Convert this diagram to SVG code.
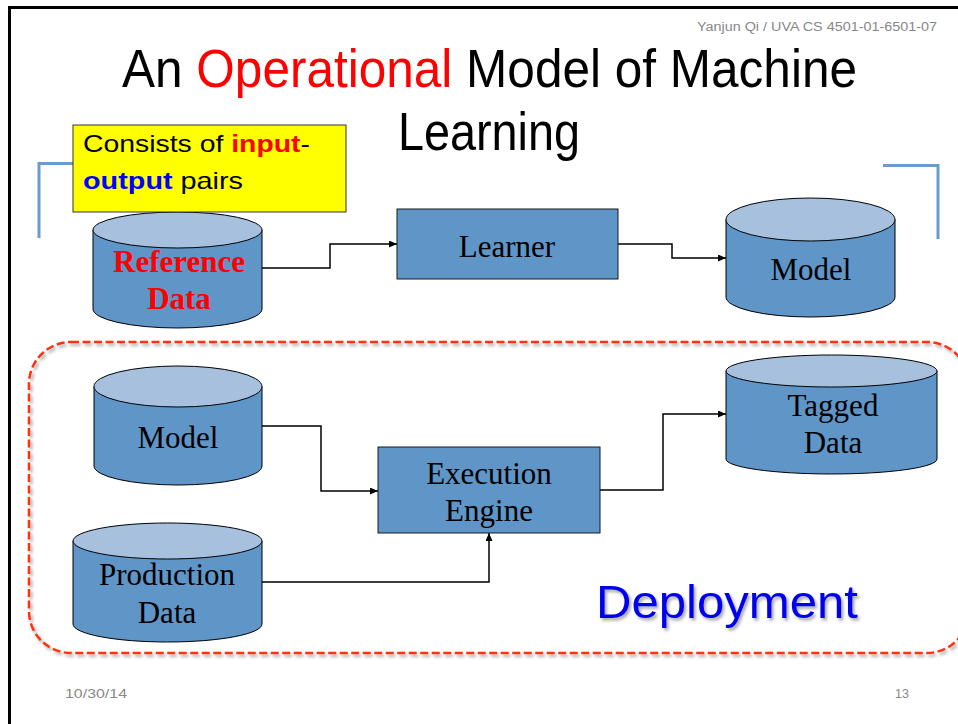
<svg xmlns="http://www.w3.org/2000/svg" width="958" height="724" viewBox="0 0 958 724">
<defs>
<style>
.body{fill:#5F95C7;stroke:#000;stroke-width:1}
.top{fill:#A6C0DE;stroke:#000;stroke-width:1}
.box{fill:#5F95C7;stroke:#1a1a1a;stroke-width:1}
.lbl{font-family:"Liberation Serif","Times New Roman",serif;font-size:31px;fill:#000;text-anchor:middle}
.conn{fill:none;stroke:#000;stroke-width:1.5}
.sans{font-family:"Liberation Sans",Arial,sans-serif}
.gray{fill:#888;font-size:12.5px}
.bracket{fill:none;stroke:#6A9BD0;stroke-width:3}
</style>
<marker id="arr" markerUnits="userSpaceOnUse" markerWidth="9" markerHeight="8" refX="8" refY="3.5" orient="auto">
<path d="M0,0 L8,3.5 L0,7 z" fill="#000"/>
</marker>
<filter id="sh" x="-5%" y="-5%" width="110%" height="115%">
<feDropShadow dx="2" dy="2.5" stdDeviation="1.5" flood-color="#000" flood-opacity="0.35"/>
</filter>
</defs>
<rect x="0" y="0" width="958" height="724" fill="#fff"/>
<path d="M9.5,724 V7.5 H958" fill="none" stroke="#000" stroke-width="3"/>

<text class="sans gray" x="937" y="31" text-anchor="end" textLength="240" lengthAdjust="spacingAndGlyphs">Yanjun Qi / UVA CS 4501-01-6501-07</text>

<g id="title">
<text class="sans" x="122" y="87" font-size="54" fill="#000" textLength="735" lengthAdjust="spacingAndGlyphs">An <tspan fill="#FF0000">Operational</tspan> Model of Machine</text>
<text class="sans" x="398" y="150" font-size="54" fill="#000" textLength="182" lengthAdjust="spacingAndGlyphs">Learning</text>
</g>

<g id="brackets">
<path class="bracket" d="M39,238 V163.5 H75"/>
<path class="bracket" d="M883,165.5 H938 V239"/>
</g>

<g id="connectors">
<path class="conn" d="M262,268 H330 V244 H397" marker-end="url(#arr)"/>
<path class="conn" d="M618,244 H672 V258 H726" marker-end="url(#arr)"/>
<path class="conn" d="M262,426 H321 V491 H378" marker-end="url(#arr)"/>
<path class="conn" d="M262,582 H489 V533" marker-end="url(#arr)"/>
<path class="conn" d="M600,490 H663 V414 H726" marker-end="url(#arr)"/>
</g>

<g id="reference-data">
<path class="body" d="M93,230 V309 A84.5,19 0 0 0 262,309 V230 Z"/>
<ellipse class="top" cx="177.5" cy="230" rx="84.5" ry="18"/>
<text class="lbl" x="179" y="272" font-weight="bold" style="fill:#FF0000">Reference</text>
<text class="lbl" x="179" y="309" font-weight="bold" style="fill:#FF0000">Data</text>
</g>

<g id="note">
<rect x="73" y="125" width="273" height="87" fill="#FFFF00" stroke="#333" stroke-width="1"/>
<text class="sans" x="83" y="152" font-size="24" fill="#000" textLength="227" lengthAdjust="spacingAndGlyphs">Consists of <tspan fill="#FF0000" font-weight="bold">input</tspan>-</text>
<text class="sans" x="83" y="189" font-size="24" fill="#000" textLength="160" lengthAdjust="spacingAndGlyphs"><tspan fill="#0000FF" font-weight="bold">output</tspan> pairs</text>
</g>

<g id="learner">
<rect class="box" x="397" y="209" width="221" height="70"/>
<text class="lbl" x="507" y="257">Learner</text>
</g>

<g id="model-top">
<path class="body" d="M726,219.5 V297 A84.5,20 0 0 0 895,297 V219.5 Z"/>
<ellipse class="top" cx="810.5" cy="219.5" rx="84.5" ry="21.5"/>
<text class="lbl" x="811" y="280">Model</text>
</g>

<g id="deployment">
<rect x="29" y="342" width="940" height="311" rx="42" ry="42" fill="none" stroke="#FF3311" stroke-width="2.5" stroke-dasharray="8 3.5" filter="url(#sh)"/>
<text class="sans" x="596" y="618" font-size="47" fill="#0000EE" textLength="262" lengthAdjust="spacingAndGlyphs" filter="url(#sh)">Deployment</text>
</g>

<g id="model-bottom">
<path class="body" d="M94,386.5 V466 A84,19 0 0 0 262,466 V386.5 Z"/>
<ellipse class="top" cx="178" cy="386.5" rx="84" ry="20.5"/>
<text class="lbl" x="178" y="448">Model</text>
</g>

<g id="production-data">
<path class="body" d="M73,541 V624 A94.5,18 0 0 0 262,624 V541 Z"/>
<ellipse class="top" cx="167.5" cy="541" rx="94.5" ry="18"/>
<text class="lbl" x="167" y="585">Production</text>
<text class="lbl" x="167" y="623">Data</text>
</g>

<g id="execution-engine">
<rect class="box" x="378" y="447" width="222" height="86"/>
<text class="lbl" x="489" y="484">Execution</text>
<text class="lbl" x="489" y="521">Engine</text>
</g>

<g id="tagged-data">
<path class="body" d="M726,371 V459 A105.5,15 0 0 0 937,459 V371 Z"/>
<ellipse class="top" cx="831.5" cy="371" rx="105.5" ry="16"/>
<text class="lbl" x="833" y="416">Tagged</text>
<text class="lbl" x="833" y="453">Data</text>
</g>

<text class="sans gray" x="65" y="698" textLength="62" lengthAdjust="spacingAndGlyphs">10/30/14</text>
<text class="sans gray" x="909" y="698" text-anchor="end">13</text>
</svg>
